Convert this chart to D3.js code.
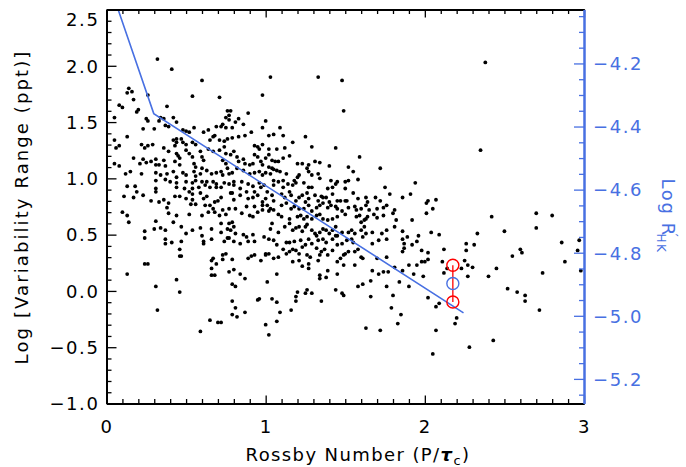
<!DOCTYPE html>
<html>
<head>
<meta charset="utf-8">
<script src="https://cdn.jsdelivr.net/npm/d3@7"></script>
<style>
  body { margin: 0; background: #fff; }
  svg { display: block; }
  text { font-family: "DejaVu Sans", sans-serif; }
</style>
</head>
<body>
<svg id="chart" width="686" height="467"></svg>
<script>
// Stars: [Rossby number, log variability range (ppt)]
const starPoints = [
  [0.32,2.06],[0.41,1.97],[0.60,1.87],[1.03,1.90],[1.33,1.90],[1.48,1.87],[2.38,2.03],[2.35,1.25],
  [0.14,1.80],[0.16,1.77],[0.13,1.76],[0.26,1.74],[0.17,1.70],[0.54,1.73],[0.71,1.72],[0.98,1.74],
  [0.08,1.65],[0.10,1.63],[0.38,1.64],[0.20,1.61],[0.19,1.59],
  [0.05,1.54],[0.25,1.53],[0.26,1.51],[0.34,1.54],[0.36,1.53],[0.33,1.51],[0.42,1.54],[0.44,1.50],
  [0.76,1.60],[0.78,1.60],[0.77,1.56],[0.89,1.58],[0.75,1.54],[0.77,1.52],[0.73,1.48],[0.72,1.46],[0.79,1.45],[0.83,1.53],[0.81,1.50],
  [0.23,1.44],[0.30,1.44],[0.37,1.47],[0.39,1.46],[0.48,1.43],[0.50,1.42],[0.52,1.41],[0.55,1.45],[0.61,1.41],[0.64,1.43],[0.69,1.46],[0.75,1.45],[0.86,1.48],[0.91,1.41],[0.98,1.45],
  [0.05,1.34],[0.13,1.37],[0.08,1.29],[0.06,1.27],[0.22,1.30],[0.24,1.27],[0.26,1.29],[0.29,1.30],[0.36,1.27],[0.42,1.34],[0.44,1.35],[0.44,1.32],[0.47,1.35],[0.48,1.32],[0.50,1.30],[0.43,1.29],[0.54,1.32],[0.56,1.30],[0.65,1.34],[0.67,1.37],[0.68,1.38],[0.71,1.34],[0.74,1.33],[0.76,1.35],[0.79,1.36],[0.83,1.37],[0.87,1.38],[0.93,1.29],[0.95,1.28],[0.96,1.26],[0.98,1.30],
  [0.05,1.13],[0.08,1.11],[0.17,1.18],[0.21,1.13],[0.23,1.17],[0.25,1.14],[0.28,1.15],[0.31,1.17],[0.31,1.12],[0.33,1.12],[0.36,1.16],[0.37,1.11],[0.39,1.24],[0.44,1.22],[0.45,1.20],[0.46,1.18],[0.43,1.15],[0.46,1.12],[0.50,1.25],[0.52,1.22],[0.54,1.19],[0.55,1.13],[0.56,1.10],[0.59,1.24],[0.60,1.19],[0.61,1.16],[0.64,1.26],[0.67,1.24],[0.71,1.25],[0.74,1.28],[0.75,1.22],[0.73,1.16],[0.75,1.13],[0.78,1.21],[0.80,1.24],[0.82,1.19],[0.83,1.15],[0.86,1.17],[0.87,1.13],[0.90,1.12],[0.92,1.13],[0.93,1.21],[0.95,1.19],[0.97,1.15],[0.98,1.12],
  [0.12,1.04],[0.15,1.06],[0.22,1.04],[0.31,1.05],[0.34,1.03],[0.38,1.04],[0.42,1.06],[0.44,1.01],[0.48,1.05],[0.50,1.03],[0.55,1.06],[0.56,1.02],[0.59,1.04],[0.60,1.09],[0.63,1.07],[0.66,1.04],[0.69,1.05],[0.72,1.06],[0.73,1.03],[0.76,1.09],[0.77,1.04],[0.79,1.05],[0.82,1.09],[0.86,1.07],[0.90,1.04],[0.93,1.05],[0.96,1.06],[0.98,1.03],
  [0.31,0.98],[0.37,0.99],[0.40,0.97],[0.44,0.96],[0.50,0.97],[0.54,0.96],[0.56,0.98],[0.60,0.97],[0.63,0.97],[0.67,0.97],[0.69,0.95],[0.74,0.96],[0.77,0.95],[0.80,0.97],[0.85,0.97],[0.89,0.95],[0.96,0.96],
  [0.13,0.93],[0.18,0.93],[0.31,0.91],[0.44,0.92],[0.49,0.91],[0.54,0.91],[0.58,0.92],[0.62,0.94],[0.65,0.92],[0.69,0.92],[0.72,0.92],[0.80,0.94],[0.84,0.91],[0.92,0.93],[0.97,0.92],[0.99,0.94],
  [1.49,1.60],[1.00,1.51],[1.09,1.45],[1.02,1.38],[1.05,1.39],[1.11,1.38],[1.25,1.37],[1.17,1.32],[1.29,1.28],[1.44,1.27],[1.02,1.26],[1.07,1.26],[1.12,1.27],[1.02,1.21],[1.00,1.18],[1.11,1.18],[1.15,1.20],[1.59,1.19],[1.04,1.16],[1.06,1.15],[1.08,1.15],[1.20,1.13],[1.23,1.13],[1.27,1.12],[1.31,1.15],[1.34,1.14],[1.40,1.11],[1.52,1.10],[1.72,1.09],[1.02,1.10],[1.04,1.09],[1.05,1.08],[1.07,1.07],[1.09,1.06],[1.00,1.05],[1.03,1.04],[1.13,1.04],[1.26,1.09],[1.27,1.06],[1.29,1.03],[1.33,1.04],[1.21,1.03],[1.20,1.01],[1.55,1.06],[1.58,0.99],[1.41,0.98],[1.34,1.00],[1.05,0.98],[1.08,0.97],[1.11,0.98],[1.14,0.95],[1.18,0.98],[1.19,0.96],[1.24,0.96],[1.45,0.97],[1.50,0.97],[1.52,0.98],[1.44,0.95],[1.42,0.92],[1.94,0.96],[1.05,0.94],[1.11,0.92],[1.17,0.94],[1.27,0.92],[1.29,0.92],[1.39,0.91],[1.50,0.91],[1.75,0.92],
  [0.11,0.84],[0.17,0.83],[0.19,0.88],[0.23,0.85],[0.28,0.80],[0.31,0.88],[0.33,0.79],[0.36,0.81],[0.43,0.84],[0.46,0.84],[0.50,0.82],[0.52,0.88],[0.54,0.86],[0.54,0.81],[0.53,0.77],[0.56,0.77],[0.59,0.87],[0.61,0.82],[0.63,0.84],[0.62,0.76],[0.65,0.76],[0.68,0.79],[0.70,0.80],[0.72,0.83],[0.78,0.87],[0.79,0.87],[0.80,0.81],[0.84,0.85],[0.88,0.88],[0.89,0.82],[0.92,0.83],[0.93,0.88],[0.95,0.85],[0.98,0.79],[1.00,0.82],
  [0.10,0.70],[0.13,0.67],[0.14,0.61],[0.39,0.78],[0.38,0.74],[0.39,0.69],[0.44,0.67],[0.52,0.68],[0.60,0.67],[0.64,0.70],[0.67,0.73],[0.68,0.70],[0.71,0.67],[0.73,0.72],[0.75,0.68],[0.77,0.73],[0.81,0.73],[0.85,0.69],[0.88,0.75],[0.90,0.67],[0.92,0.66],[0.93,0.75],[0.95,0.70],[0.98,0.72],[0.98,0.76],
  [0.31,0.62],[0.42,0.61],[0.72,0.60],[0.77,0.60],[0.79,0.61],[0.80,0.57],
  [0.24,0.53],[0.30,0.55],[0.34,0.56],[0.37,0.54],[0.47,0.57],[0.50,0.51],[0.54,0.54],[0.59,0.56],[0.66,0.55],[0.72,0.52],[0.76,0.55],[0.78,0.54],[0.81,0.51],[0.86,0.50],[0.88,0.48],[0.92,0.50],[0.99,0.48],
  [0.24,0.47],[0.37,0.46],[0.37,0.42],[0.41,0.43],[0.47,0.44],[0.60,0.49],[0.61,0.44],[0.61,0.42],[0.66,0.46],[0.74,0.44],[0.76,0.47],[0.77,0.47],[0.80,0.44],[0.84,0.42],[0.89,0.44],[0.93,0.44],
  [0.46,0.37],[0.46,0.31],[0.47,0.31],[0.67,0.29],[0.66,0.27],[0.69,0.24],[0.73,0.32],[0.75,0.33],[0.73,0.28],[0.79,0.28],[0.89,0.29],[0.91,0.31],[0.93,0.32],[0.97,0.27],[1.00,0.32],
  [0.24,0.24],[0.26,0.24],[0.66,0.20],[0.77,0.17],[0.80,0.19],[0.66,0.14],[0.68,0.14],[0.84,0.15],[0.87,0.11],[0.13,0.15],[0.44,0.10],[0.31,0.04],[0.79,0.06],[0.81,0.04],[0.46,-0.01],[0.96,-0.07],
  [0.32,-0.17],[0.59,-0.36],[0.65,-0.26],[0.70,-0.28],[0.72,-0.28],[0.79,-0.09],[0.79,-0.21],[0.81,-0.15],[0.82,-0.23],[0.87,-0.19],[0.95,-0.08],[1.00,-0.30],[1.02,-0.39],[1.07,-0.27],[1.07,-0.10],[1.09,-0.19],[1.16,-0.17],[1.19,-0.09],[1.35,-0.09],[1.63,-0.33],[1.72,-0.35],[1.79,-0.15],[1.83,-0.29],[1.85,-0.21],
  [1.01,0.88],[1.04,0.85],[1.05,0.80],[1.10,0.86],[1.12,0.83],[1.15,0.88],[1.16,0.85],[1.19,0.80],[1.21,0.83],[1.23,0.85],[1.25,0.79],[1.26,0.87],[1.27,0.82],[1.31,0.85],[1.33,0.80],[1.35,0.84],[1.36,0.83],[1.38,0.83],[1.40,0.79],[1.42,0.86],[1.45,0.80],[1.47,0.80],[1.51,0.80],[1.55,0.87],[1.58,0.82],[1.63,0.83],[1.64,0.79],[1.69,0.83],[1.72,0.80],[1.78,0.86],[1.86,0.83],[1.91,0.86],
  [1.01,0.76],[1.03,0.73],[1.05,0.72],[1.10,0.76],[1.13,0.78],[1.16,0.73],[1.18,0.75],[1.21,0.73],[1.24,0.73],[1.27,0.76],[1.29,0.71],[1.32,0.74],[1.34,0.76],[1.36,0.78],[1.39,0.74],[1.41,0.76],[1.44,0.75],[1.45,0.73],[1.48,0.71],[1.50,0.80],[1.52,0.74],[1.56,0.75],[1.57,0.72],[1.60,0.73],[1.63,0.76],[1.65,0.72],[1.70,0.73],[1.74,0.74],[1.76,0.76],[1.80,0.69],[1.81,0.72],
  [1.02,0.71],[1.08,0.68],[1.10,0.66],[1.15,0.64],[1.20,0.66],[1.22,0.67],[1.24,0.64],[1.26,0.66],[1.29,0.64],[1.32,0.67],[1.34,0.68],[1.36,0.64],[1.39,0.63],[1.42,0.64],[1.45,0.66],[1.50,0.68],[1.57,0.66],[1.59,0.67],[1.60,0.61],[1.62,0.63],[1.63,0.64],[1.64,0.66],[1.68,0.68],[1.70,0.65],[1.74,0.67],[1.82,0.63],[1.92,0.63],
  [1.04,0.60],[1.03,0.55],[1.08,0.52],[1.12,0.57],[1.15,0.60],[1.17,0.54],[1.19,0.56],[1.21,0.57],[1.23,0.53],[1.25,0.57],[1.26,0.59],[1.29,0.54],[1.31,0.51],[1.32,0.49],[1.34,0.52],[1.36,0.55],[1.38,0.54],[1.40,0.51],[1.42,0.54],[1.44,0.57],[1.45,0.49],[1.48,0.52],[1.52,0.52],[1.54,0.54],[1.56,0.51],[1.60,0.54],[1.62,0.57],[1.63,0.51],[1.67,0.52],[1.73,0.51],[1.76,0.54],[1.81,0.57],[1.86,0.53],[1.89,0.48],[1.96,0.49],
  [1.02,0.46],[1.05,0.45],[1.07,0.41],[1.13,0.43],[1.15,0.43],[1.18,0.44],[1.22,0.45],[1.25,0.41],[1.27,0.46],[1.29,0.42],[1.33,0.45],[1.36,0.46],[1.38,0.43],[1.42,0.46],[1.44,0.49],[1.45,0.41],[1.48,0.42],[1.51,0.45],[1.54,0.46],[1.55,0.43],[1.61,0.48],[1.67,0.42],[1.71,0.45],[1.76,0.46],[1.86,0.46],[1.87,0.42],[1.92,0.41],[1.95,0.44],[1.98,0.36],
  [1.00,0.33],[1.02,0.33],[1.05,0.29],[1.08,0.30],[1.11,0.37],[1.13,0.33],[1.15,0.35],[1.17,0.37],[1.19,0.36],[1.21,0.33],[1.23,0.39],[1.26,0.32],[1.28,0.30],[1.32,0.38],[1.34,0.32],[1.35,0.35],[1.37,0.37],[1.39,0.32],[1.42,0.36],[1.45,0.26],[1.47,0.29],[1.49,0.32],[1.50,0.33],[1.52,0.35],[1.56,0.35],[1.58,0.37],[1.60,0.30],[1.61,0.29],[1.70,0.29],[1.76,0.30],[1.86,0.35],[1.87,0.38],[1.98,0.26],[2.00,0.26],
  [1.07,0.15],[1.17,0.26],[1.21,0.27],[1.23,0.22],[1.27,0.24],[1.27,0.20],[1.33,0.27],[1.34,0.14],[1.34,0.11],[1.38,0.12],[1.39,0.18],[1.45,0.15],[1.49,0.23],[1.56,0.23],[1.66,0.09],[1.67,0.18],[1.71,0.15],[1.74,0.17],[1.77,0.17],[1.81,0.21],[1.86,0.18],[1.90,0.23],[1.95,0.23],[1.99,0.13],
  [1.01,0.08],[1.04,-0.07],[1.19,-0.05],[1.20,-0.01],[1.25,-0.02],[1.26,0.01],[1.29,-0.02],[1.44,0.01],[1.48,-0.02],[1.49,-0.04],[1.58,0.04],[1.61,0.06],[1.66,-0.05],[1.76,0.04],[1.80,-0.04],[1.84,0.08],[1.90,0.04],[1.93,0.15],
  [2.02,0.80],[2.07,0.81],[2.01,0.78],[2.05,0.73],[2.01,0.69],[2.04,0.52],[2.09,0.50],[2.42,0.66],[2.70,0.69],[2.80,0.67],[2.70,0.56],[2.50,0.53],[2.33,0.51],
  [2.26,0.42],[2.31,0.41],[2.26,0.36],[2.12,0.37],[2.02,0.34],[2.02,0.28],[2.11,0.26],[2.14,0.20],[2.12,0.16],[2.25,0.27],[2.27,0.23],[2.23,0.20],[2.30,0.21],[2.27,0.13],[2.40,0.13],[2.45,0.20],
  [2.55,0.31],[2.60,0.37],[2.61,0.34],[2.74,0.16],[2.86,0.43],[2.88,0.26],[2.97,0.45],[2.96,0.36],[2.98,0.18],
  [2.52,0.02],[2.58,-0.01],[2.63,-0.04],[2.63,-0.09],[2.72,-0.17],[2.02,-0.06],[2.09,-0.11],[2.07,-0.14],[2.20,-0.24],[2.19,-0.29],[2.07,-0.35],[2.43,-0.44],[2.28,-0.50],[2.05,-0.56]
];

// Broken power-law relation, drawn as straight segments
const fitLine = [[0.073, 2.5], [0.297, 1.575], [2.243, -0.195]];

// Solar cycle range: maximum, minimum and mean
const sunRossby = 2.176;
const sunExtremes = [0.228, -0.098];
const sunMean = 0.066;

// Axis ticks
const xMajorTicks = [0, 1, 2, 3];
const yMajorTicks = [-1.0, -0.5, 0.0, 0.5, 1.0, 1.5, 2.0, 2.5];
const rhkMajorTicks = [-5.2, -5.0, -4.8, -4.6, -4.4, -4.2];

const BLUE = "#4870e2";
const FONT = "'DejaVu Sans', sans-serif";
const plot = { left: 106.5, right: 584, top: 9.5, bottom: 403.5 };

const svg = d3.select("#chart");

const x = d3.scaleLinear().domain([0, 3]).range([plot.left, plot.right]);
const y = d3.scaleLinear().domain([-1, 2.5]).range([plot.bottom, plot.top]);
const yRhk = d3.scaleLinear().domain([-5.278, -4.029]).range([plot.bottom, plot.top]);

const minor = (lo, hi, step) => d3.range(Math.round((hi - lo) / step) + 1)
  .map(i => +(lo + i * step).toFixed(3));

svg.append("defs").append("clipPath").attr("id", "plotClip")
  .append("rect")
  .attr("x", plot.left).attr("y", plot.top)
  .attr("width", plot.right - plot.left).attr("height", plot.bottom - plot.top);

// Stars
svg.append("g")
  .selectAll("circle")
  .data(starPoints)
  .join("circle")
  .attr("cx", d => x(d[0]))
  .attr("cy", d => y(d[1]))
  .attr("r", 1.9)
  .attr("fill", "#000");

// Fit relation
svg.append("path")
  .datum(fitLine)
  .attr("clip-path", "url(#plotClip)")
  .attr("fill", "none")
  .attr("stroke", BLUE)
  .attr("stroke-width", 1.6)
  .attr("d", d3.line().x(d => x(d[0])).y(d => y(d[1])));

// Sun
const sunG = svg.append("g");
sunG.append("line")
  .attr("x1", x(sunRossby)).attr("x2", x(sunRossby))
  .attr("y1", y(sunExtremes[0])).attr("y2", y(sunExtremes[1]))
  .attr("stroke", "red").attr("stroke-width", 1.3);
sunG.selectAll("circle.ext")
  .data(sunExtremes)
  .join("circle")
  .attr("class", "ext")
  .attr("cx", x(sunRossby)).attr("cy", d => y(d))
  .attr("r", 6).attr("fill", "none").attr("stroke", "red").attr("stroke-width", 1.4);
sunG.append("circle")
  .attr("cx", x(sunRossby)).attr("cy", y(sunMean))
  .attr("r", 6).attr("fill", "none").attr("stroke", BLUE).attr("stroke-width", 1.4);

// Axes
function styleAxis(g, color, width) {
  g.selectAll(".domain").attr("stroke", color).attr("stroke-width", width);
  g.selectAll(".tick line").attr("stroke", color).attr("stroke-width", 1.3);
  g.selectAll("text").attr("fill", color).attr("font-size", 18)
    .attr("letter-spacing", 1.6).attr("font-family", FONT);
}

// bottom
const xMinorTicks = minor(0, 3, 0.1).filter(v => !xMajorTicks.includes(v));
svg.append("g").attr("transform", `translate(0,${plot.bottom})`)
  .call(d3.axisBottom(x).tickValues(xMinorTicks).tickSize(-4.5).tickSizeOuter(0).tickFormat(""))
  .call(g => styleAxis(g, "#000", 2));
svg.append("g").attr("transform", `translate(0,${plot.bottom})`)
  .call(d3.axisBottom(x).tickValues(xMajorTicks).tickSize(-8).tickSizeOuter(0)
    .tickPadding(17).tickFormat(d3.format("d")))
  .call(g => styleAxis(g, "#000", 2));

// top
svg.append("g").attr("transform", `translate(0,${plot.top})`)
  .call(d3.axisTop(x).tickValues(xMinorTicks).tickSize(-4.5).tickSizeOuter(0).tickFormat(""))
  .call(g => styleAxis(g, "#000", 2));
svg.append("g").attr("transform", `translate(0,${plot.top})`)
  .call(d3.axisTop(x).tickValues(xMajorTicks).tickSize(-8).tickSizeOuter(0).tickFormat(""))
  .call(g => styleAxis(g, "#000", 2));

// left
const yMinorTicks = minor(-1, 2.5, 0.1).filter(v => !yMajorTicks.includes(v));
svg.append("g").attr("transform", `translate(${plot.left},0)`)
  .call(d3.axisLeft(y).tickValues(yMinorTicks).tickSize(-5).tickSizeOuter(0).tickFormat(""))
  .call(g => styleAxis(g, "#000", 2));
svg.append("g").attr("transform", `translate(${plot.left},0)`)
  .call(d3.axisLeft(y).tickValues(yMajorTicks).tickSize(-10).tickSizeOuter(0)
    .tickPadding(7).tickFormat(d3.format(".1f")))
  .call(g => styleAxis(g, "#000", 2))
  .call(g => g.selectAll(".tick text").attr("dy", d => d === 2.5 ? "0.9em" : "0.35em"));

// right (activity index)
const rhkMinorTicks = minor(-5.25, -4.05, 0.05).filter(v => !rhkMajorTicks.includes(v));
svg.append("g").attr("transform", `translate(${plot.right},0)`)
  .call(d3.axisRight(yRhk).tickValues(rhkMinorTicks).tickSize(-5).tickSizeOuter(0).tickFormat(""))
  .call(g => styleAxis(g, BLUE, 2));
svg.append("g").attr("transform", `translate(${plot.right},0)`)
  .call(d3.axisRight(yRhk).tickValues(rhkMajorTicks).tickSize(-10).tickSizeOuter(0)
    .tickPadding(9).tickFormat(d3.format(".1f")))
  .call(g => styleAxis(g, BLUE, 2))
  .call(g => g.selectAll(".tick text").attr("dy", "0.35em"));

// Axis titles
svg.append("text")
  .attr("x", 358).attr("y", 461)
  .attr("text-anchor", "middle").attr("font-size", 18).attr("letter-spacing", 1.4)
  .attr("fill", "#000")
  .call(t => {
    t.append("tspan").text("Rossby Number (P/");
    t.append("tspan").text("τ").attr("font-style", "italic").attr("font-weight", "bold");
    t.append("tspan").text("c").attr("font-size", 13).attr("dy", 4);
    t.append("tspan").text(")").attr("dy", -4);
  });

svg.append("text")
  .attr("transform", `translate(28,207) rotate(-90)`)
  .attr("text-anchor", "middle").attr("font-size", 18).attr("letter-spacing", 2.1)
  .attr("fill", "#000")
  .text("Log [Variability Range (ppt)]");

svg.append("text")
  .attr("transform", `translate(662,216) rotate(90)`)
  .attr("text-anchor", "middle").attr("font-size", 18).attr("letter-spacing", 1.6)
  .attr("fill", BLUE)
  .call(t => {
    t.append("tspan").text("Log R");
    t.append("tspan").text("′").attr("font-size", 13).attr("dy", -7).attr("dx", -3);
    t.append("tspan").text("HK").attr("font-size", 12).attr("dy", 12).attr("dx", -5);
  });
</script>
</body>
</html>
